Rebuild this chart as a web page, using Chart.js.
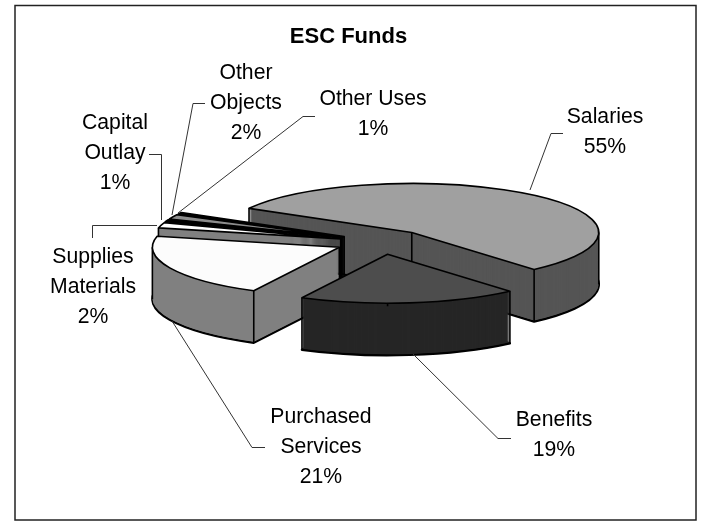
<!DOCTYPE html>
<html>
<head>
<meta charset="utf-8">
<style>html,body{margin:0;padding:0;background:#fff}#wrap{position:absolute;left:0;top:0;width:701px;height:522px}</style>
<script src="https://cdn.jsdelivr.net/npm/chart.js@4"></script>
</head>
<body>
<div id="wrap"><canvas id="c"></canvas></div>
<script>
const chartTitle = 'ESC Funds';
const categories = ['Salaries','Benefits','Purchased Services','Supplies Materials','Capital Outlay','Other Objects','Other Uses'];
const shares = [55.4,18.9,21,1.8,0.7,1.5,0.6];
const topColors = ['#a0a0a0','#4d4d4d','#fcfcfc','#ffffff','#000000','#8c8c8c','#000000'];
const sideColors = ['#555555','#262626','#808080','#808080','#000000','#2a2a2a','#000000'];
const explodeBy = [47,47,47,43,43,43,43];
const paintOrder = [0,6,5,4,3,2,1];
// label layout: centre x, first line centre y, text lines
const labelLines = [['Salaries'],['Benefits'],['Purchased','Services'],['Supplies','Materials'],['Capital','Outlay'],['Other','Objects'],['Other Uses']];
const labelX = [605,554,321,93,115,246,373];
const labelY = [117,420,417,257,123,73,99];
const leaderPaths = [
  [[563,133.5],[551,133.5],[530,190]],
  [[511,438.5],[498,438.5],[413,354]],
  [[265,447.5],[252,447.5],[172,321]],
  [[92.5,238],[92.5,225.5],[157,225.5]],
  [[149,154.5],[161.5,154.5],[161.5,220]],
  [[205,103.5],[193,103.5],[172,215]],
  [[315,116.5],[303,116.5],[178,213]]
];
const view = {cx:382, cy:242, radius:187, squash:0.262, depth:52, rotation:299.5};

function ghostOf(el,color){
  const g = Object.create(el);
  g.options = {backgroundColor:color,borderColor:color,borderWidth:0,borderAlign:'center',borderRadius:0,spacing:0,offset:0,circular:true,borderJoinStyle:'round',borderDash:[],borderDashOffset:0};
  return g;
}
const pie3d = {
  id:'pie3d',
  beforeDraw(chart){
    const ctx = chart.ctx;
    ctx.save();
    ctx.fillStyle='#fff';ctx.fillRect(0,0,chart.width,chart.height);
    ctx.strokeStyle='#222';ctx.lineWidth=1.5;
    ctx.strokeRect(15,5.5,681,514.5);
    ctx.restore();
  },
  beforeDatasetsDraw(chart){
    const ctx = chart.ctx, k = view.squash;
    const arcs = chart.getDatasetMeta(0).data;
    ctx.save();
    ctx.lineJoin='round';
    paintOrder.forEach(i=>{
      const el = arcs[i];
      const mid = (el.startAngle+el.endAngle)/2;
      const ox = view.cx+Math.cos(mid)*explodeBy[i];
      const oy = view.cy+Math.sin(mid)*explodeBy[i]*k;
      const R = el.outerRadius;
      const place = (z)=>{ctx.translate(ox,oy+z);ctx.scale(1,k);ctx.translate(-el.x,-el.y);};
      const wedge = (z)=>{
        ctx.save();
        ctx.translate(ox,oy+z);ctx.scale(1,k);
        ctx.beginPath();ctx.moveTo(0,0);ctx.arc(0,0,R,el.startAngle,el.endAngle);ctx.closePath();
        ctx.restore();
      };
      const side = ghostOf(el,sideColors[i]);
      ctx.strokeStyle='#000';
      // base of the extrusion
      ctx.save();place(view.depth);side.draw(ctx);ctx.restore();
      wedge(view.depth);ctx.lineWidth=2.4;ctx.stroke();
      // body
      for(let z=view.depth-1;z>=0;z--){ctx.save();place(z);side.draw(ctx);ctx.restore();}
      // vertical edges: visible corners and the silhouette extremes
      const ang=[];
      if(Math.sin(el.startAngle)>0||Math.cos(el.startAngle)<0)ang.push(el.startAngle);
      if(Math.sin(el.endAngle)>0||Math.cos(el.endAngle)>0)ang.push(el.endAngle);
      for(let n=-2;n<=6;n++){const a=n*Math.PI;if(a>el.startAngle&&a<el.endAngle)ang.push(a);}
      ctx.lineWidth=1.6;
      ctx.beginPath();
      ctx.moveTo(ox,oy);ctx.lineTo(ox,oy+view.depth);
      ang.forEach(a=>{
        const x=ox+Math.cos(a)*R,y=oy+Math.sin(a)*R*k;
        ctx.moveTo(x,y);ctx.lineTo(x,y+view.depth);
      });
      ctx.stroke();
      // top face
      ctx.save();place(0);el.draw(ctx);ctx.restore();
      wedge(0);ctx.lineWidth=1.6;ctx.stroke();
    });
    ctx.restore();
    return false;
  },
  afterDraw(chart){
    const ctx = chart.ctx;
    ctx.save();
    ctx.strokeStyle='#333';ctx.lineWidth=1;
    leaderPaths.forEach(p=>{
      ctx.beginPath();ctx.moveTo(p[0][0],p[0][1]);
      p.slice(1).forEach(q=>ctx.lineTo(q[0],q[1]));
      ctx.stroke();
    });
    ctx.fillStyle='#000';ctx.font='21.2px "Liberation Sans", Arial, sans-serif';
    ctx.textAlign='center';ctx.textBaseline='middle';
    categories.forEach((c,i)=>{
      const lines = labelLines[i].concat([Math.round(shares[i])+'%']);
      lines.forEach((t,j)=>ctx.fillText(t,labelX[i],labelY[i]+j*30.3));
    });
    ctx.restore();
  }
};
new Chart(document.getElementById('c'),{
  type:'pie',
  data:{labels:categories,datasets:[{data:shares,backgroundColor:topColors,borderWidth:0}]},
  options:{
    responsive:true,maintainAspectRatio:false,animation:false,
    events:[],
    rotation:view.rotation,
    radius:view.radius,
    layout:{padding:{left:0,right:4,top:0,bottom:0}},
    plugins:{
      legend:{display:false},tooltip:{enabled:false},
      title:{display:true,text:chartTitle,color:'#000',font:{family:'"Liberation Sans", Arial, sans-serif',size:22,weight:'bold'},padding:{top:24,bottom:0}}
    }
  },
  plugins:[pie3d]
});
</script>
</body>
</html>
